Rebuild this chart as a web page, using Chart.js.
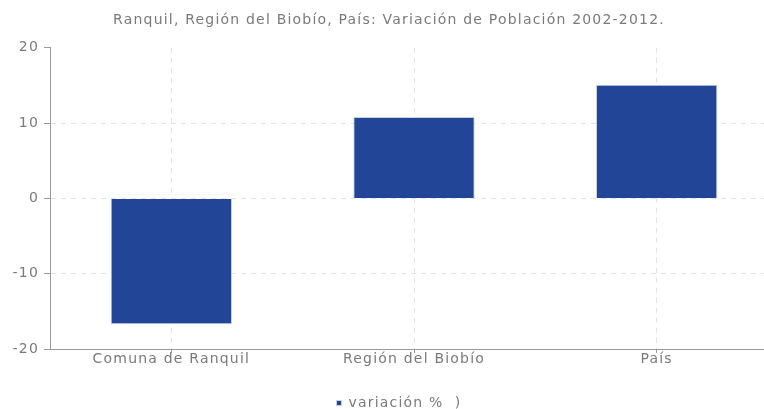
<!DOCTYPE html>
<html>
<head>
<meta charset="utf-8">
<script src="https://cdn.jsdelivr.net/npm/chart.js@4"></script>
<style>
  body { margin: 0; background: #fff; }
  #wrap { width: 764px; height: 409px; overflow: hidden; }
</style>
</head>
<body>
<div id="wrap"><canvas id="myChart" width="778" height="409"></canvas></div>
<script>
const ctx = document.getElementById('myChart')
const labels = ["Comuna de Ranquil", "Región del Biobío", "País"]
const variacion = [-16.7, 10.8, 15.1]
const seriesName = "variación %  )"
const titleText = "Ranquil, Región del Biobío, País: Variación de Población 2002-2012."

const gray = '#7a7a7a'
const font = { family: 'DejaVu Sans', size: 14 }

// the original font is wide and loosely tracked, so spread the letters a bit
const spacing = {
    id: 'spacing',
    beforeUpdate: (chart) => { chart.ctx.letterSpacing = '1.2px' },
    beforeLayout: (chart) => { chart.ctx.letterSpacing = '1.2px' },
    afterLayout: (chart) => {
        // legend sits a little lower and to the right in the original
        chart.legend.top += 11
        chart.legend.bottom += 11
        chart.legend.left += 10
        chart.legend.right += 10
    },
    beforeDraw: (chart) => { chart.ctx.letterSpacing = '1.2px' }
}

new Chart(ctx, {
    type: 'bar',
    data: {
        labels: labels,
        datasets: [
            {
                label: seriesName,
                data: variacion,
                backgroundColor: '#224598',
                borderColor: '#c9d0e2',
                borderWidth: 1,
                barPercentage: 1,
                categoryPercentage: 0.5
            }
        ]
    },
    plugins: [spacing],
    options: {
        responsive: false,
        animation: false,
        plugins: {
            legend: {
                position: 'bottom',
                labels: { boxWidth: 5, boxHeight: 5, color: gray, font: font, padding: 2 }
            },
            title: {
                display: true,
                text: titleText,
                color: gray,
                font: { family: 'DejaVu Sans', size: 14, weight: 'normal' },
                padding: { top: 12, bottom: 19 }
            },
            tooltip: { enabled: false }
        },
        scales: {
            x: {
                afterFit: (scale) => { scale.height = 34 },
                grid: {
                    color: '#e2e2e2',
                    tickColor: '#999',
                    tickLength: 4,
                    offset: false
                },
                border: { color: '#999', dash: [5, 5] },
                ticks: { color: gray, font: font, padding: -2 }
            },
            y: {
                min: -20,
                max: 20,
                afterFit: (scale) => { scale.width = 50 },
                grid: {
                    color: (c) => c.tick && c.tick.value === 20 ? 'rgba(0,0,0,0)' : '#e2e2e2',
                    tickColor: '#999',
                    tickLength: 6
                },
                border: { color: '#999', dash: [5, 5] },
                ticks: { stepSize: 10, color: gray, font: font, padding: 5 }
            }
        }
    }
})
</script>
</body>
</html>
